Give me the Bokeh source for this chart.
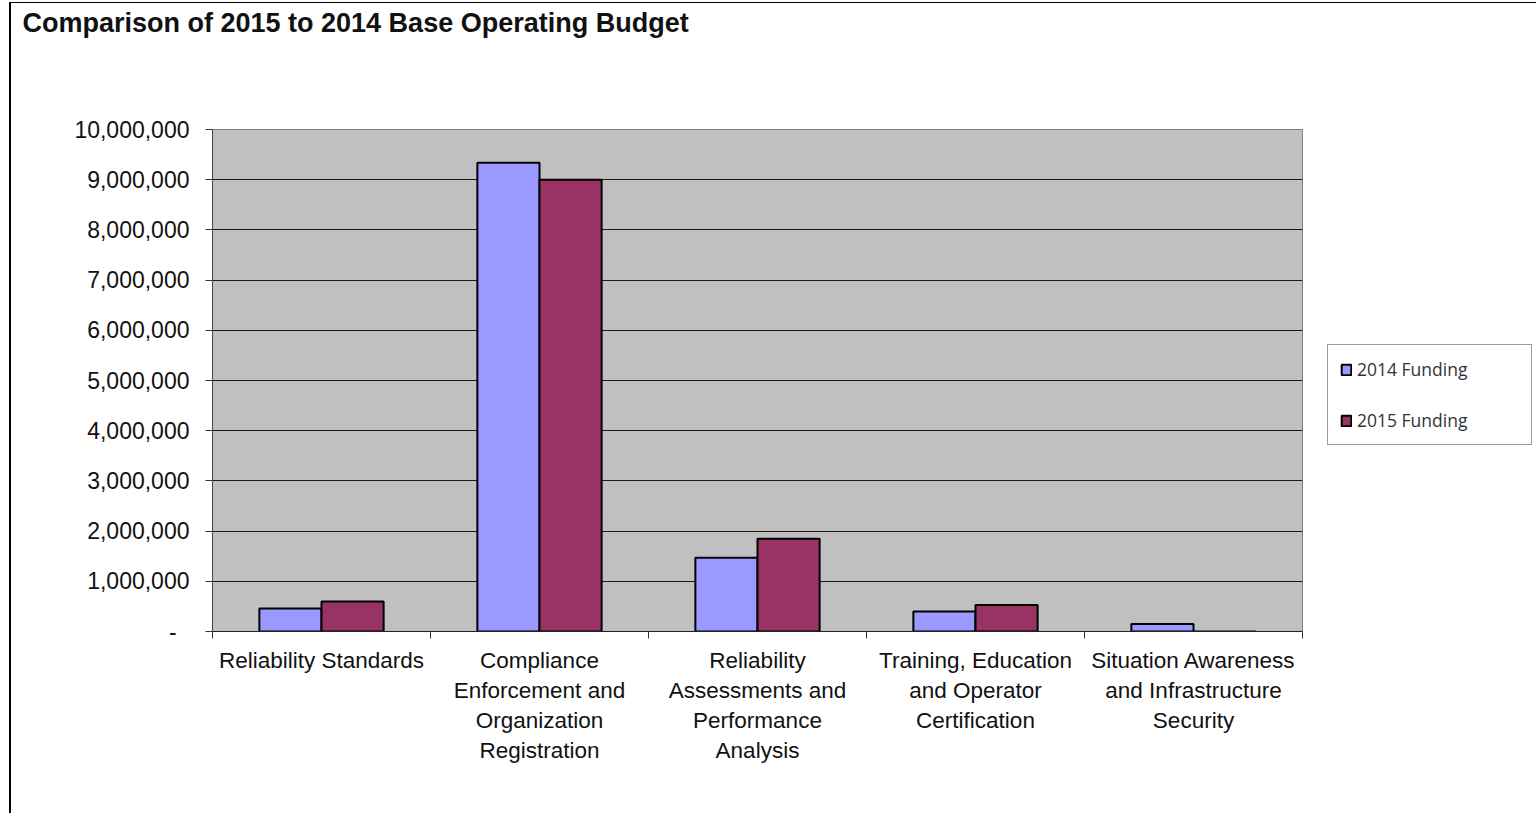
from bokeh.plotting import figure
from bokeh.models import ColumnDataSource, FixedTicker, NumeralTickFormatter, Legend, LegendItem, Range1d
from bokeh.transform import dodge
from bokeh.embed import file_html
from bokeh.resources import INLINE

title_text = "Comparison  of 2015 to 2014 Base Operating  Budget"
categories = [
    "Reliability Standards",
    "Compliance Enforcement and Organization Registration",
    "Reliability Assessments and Performance Analysis",
    "Training, Education and Operator Certification",
    "Situation Awareness and Infrastructure Security",
]
category_labels = [
    "Reliability Standards",
    "Compliance\nEnforcement and\nOrganization\nRegistration",
    "Reliability\nAssessments and\nPerformance\nAnalysis",
    "Training, Education\nand Operator\nCertification",
    "Situation Awareness\nand Infrastructure\nSecurity",
]
series_names = ["2014 Funding", "2015 Funding"]
funding_2014 = [460000, 9340000, 1470000, 400000, 150000]
funding_2015 = [600000, 9000000, 1850000, 530000, 0]
y_ticks = [0, 1000000, 2000000, 3000000, 4000000, 5000000, 6000000, 7000000, 8000000, 9000000, 10000000]

centers = [i + 0.5 for i in range(len(categories))]
bounds = [float(i) for i in range(len(categories) + 1)]

source = ColumnDataSource(dict(cat=categories, x=centers, f2014=funding_2014, f2015=funding_2015))

p = figure(
    output_backend="svg", toolbar_location=None,
    frame_width=1090, frame_height=502,
    min_border_left=201, min_border_right=234, min_border_top=126, min_border_bottom=182,
    x_range=Range1d(0, len(categories)), y_range=Range1d(0, 10000000),
)
p.styles = {"border-left": "2px solid #000", "border-top": "1px solid #000",
            "margin-top": "2px", "margin-left": "9px"}
p.background_fill_color = "#C0C0C0"
p.border_fill_color = "white"
p.outline_line_color = "#808080"
p.outline_line_width = 1

# title (blank trailing lines lift the first line to the top of the canvas)
p.title.text = title_text + "\n \n \n "
p.title.align = "left"
p.title.vertical_align = "top"
p.title.offset = -190
p.title.standoff = 0
p.title.text_font = "Liberation Sans"
p.title.text_font_style = "bold"
p.title.text_font_size = "27px"
p.title.text_line_height = 1.0
p.title.text_color = "#111111"

bar_w = 0.285
r1 = p.vbar(x=dodge("x", -bar_w / 2, range=p.x_range), top="f2014", width=bar_w, source=source,
            fill_color="#9999FF", line_color="black", line_width=2)
r2 = p.vbar(x=dodge("x", bar_w / 2, range=p.x_range), top="f2015", width=bar_w, source=source,
            fill_color="#993366", line_color="black", line_width=2)

# x axis
p.xaxis.ticker = FixedTicker(ticks=centers, minor_ticks=bounds)
p.xaxis.major_label_overrides = {c: l for c, l in zip(centers, category_labels)}
p.xaxis.major_tick_line_color = None
p.xaxis.minor_tick_line_color = "#333333"
p.xaxis.minor_tick_out = 7
p.xaxis.minor_tick_in = 0
p.xaxis.axis_line_color = "#222222"
p.xaxis.major_label_text_font = "Liberation Sans"
p.xaxis.major_label_text_font_size = "22.5px"
p.xaxis.major_label_text_color = "#111111"
p.xaxis.major_label_standoff = 9
p.xgrid.grid_line_color = None

# y axis
p.yaxis.ticker = FixedTicker(ticks=y_ticks)
p.yaxis.formatter = NumeralTickFormatter(format="0,0")
p.yaxis.major_label_overrides = {0: "-  "}
p.yaxis.major_tick_out = 7
p.yaxis.major_tick_in = 0
p.yaxis.minor_tick_line_color = None
p.yaxis.major_tick_line_color = "#333333"
p.yaxis.axis_line_color = "#444444"
p.yaxis.major_label_text_font = "Liberation Sans"
p.yaxis.major_label_text_font_size = "23px"
p.yaxis.major_label_text_color = "#111111"
p.yaxis.major_label_standoff = 16
p.ygrid.grid_line_color = "#1a1a1a"
p.ygrid.grid_line_width = 1

legend = Legend(items=[LegendItem(label=series_names[0], renderers=[r1]),
                       LegendItem(label=series_names[1], renderers=[r2])],
                location=(25, 186))
legend.border_line_color = "#333333"
legend.border_line_width = 1
legend.background_fill_color = "white"
legend.padding = 12
legend.spacing = 27
legend.glyph_width = 12
legend.glyph_height = 13
legend.label_height = 24
legend.label_width = 162
legend.label_standoff = 5
legend.label_text_font = "Open Sans"
legend.label_text_font_size = "17.5px"
legend.label_text_color = "#333333"
legend.margin = 25
p.add_layout(legend, "right")

open("out.html", "w").write(file_html(p, INLINE))
